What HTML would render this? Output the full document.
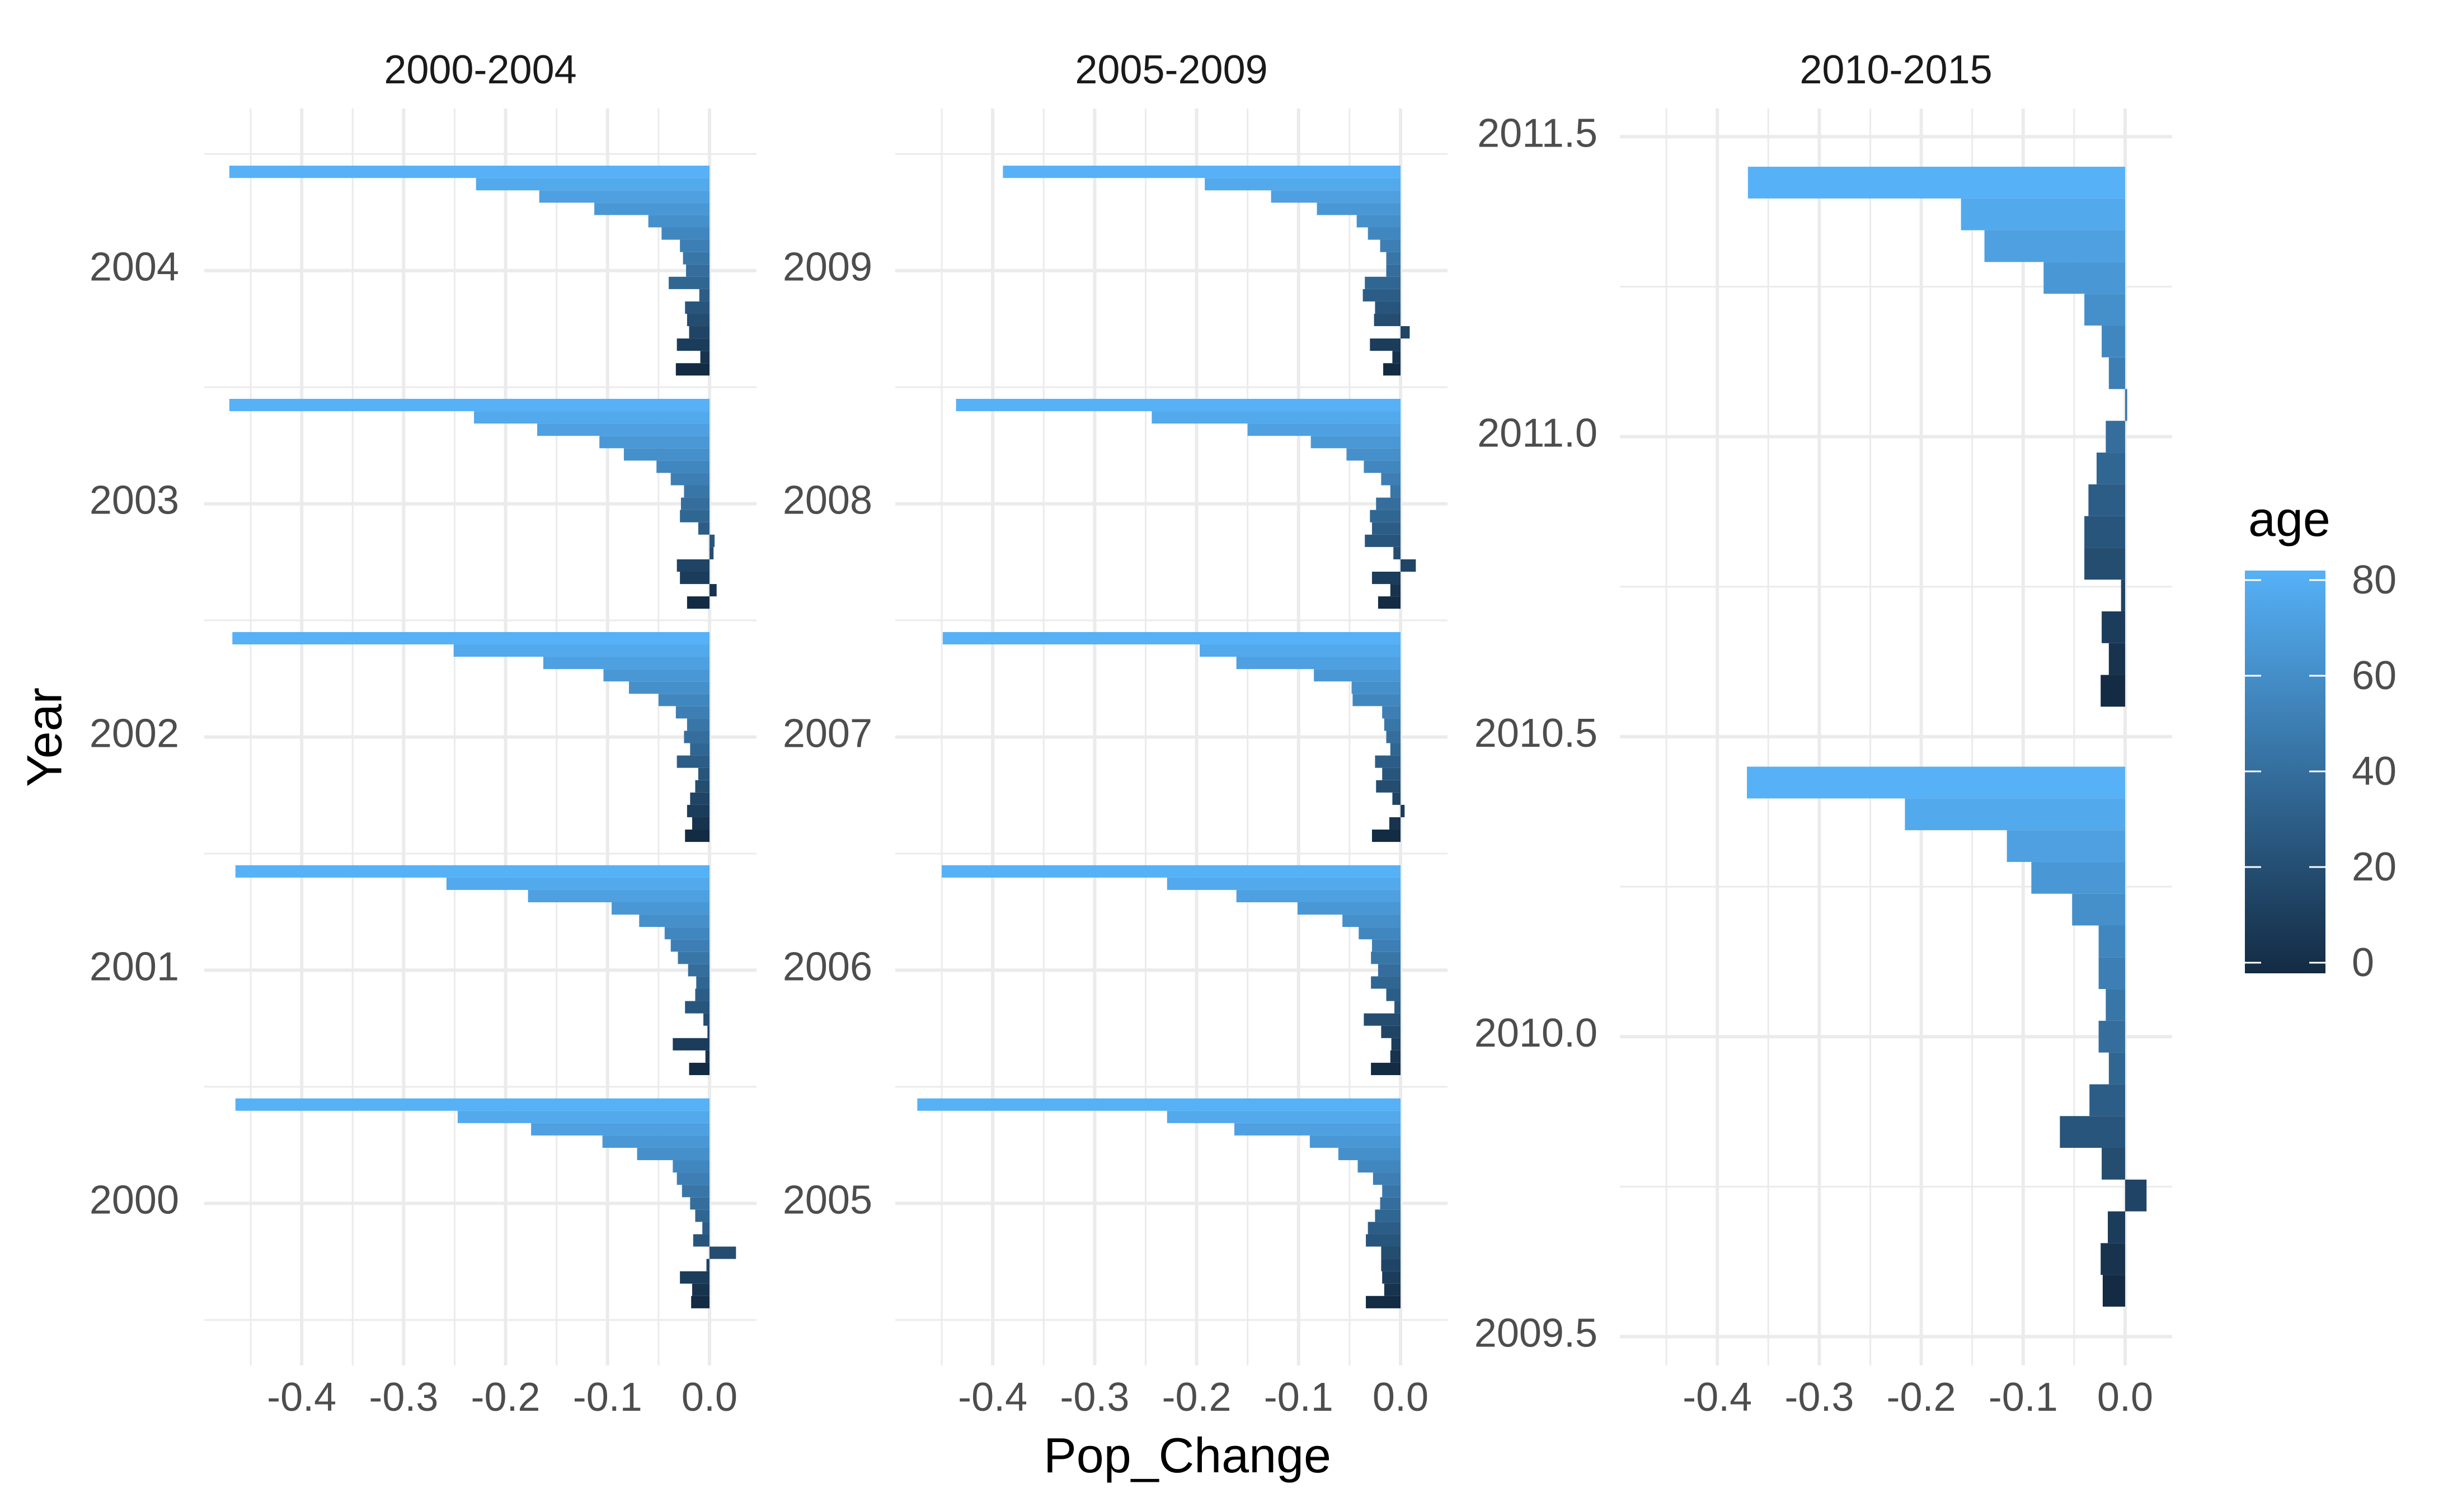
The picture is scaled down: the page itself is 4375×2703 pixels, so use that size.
<!DOCTYPE html>
<html><head><meta charset="utf-8"><title>Pop_Change by Year</title>
<style>
html,body{margin:0;padding:0;background:#fff;}
svg{display:block;font-family:"Liberation Sans",Arial,sans-serif;}
</style></head>
<body>
<svg id="chart" xmlns="http://www.w3.org/2000/svg" width="4375" height="2703" viewBox="0 0 4375 2703">
<rect x="0" y="0" width="4375" height="2703" fill="#fff"/>
<g id="grid"></g>
<g id="bars"></g>
<g id="labels"></g>
<text x="79" y="1318" transform="rotate(-90 79 1318)" text-anchor="middle" dominant-baseline="central" font-size="88" fill="#000">Year</text>
<text x="2122" y="2632" text-anchor="middle" font-size="88" fill="#000">Pop_Change</text>
<defs>
<linearGradient id="ageGrad" x1="0" y1="1" x2="0" y2="0">
<stop offset="0" stop-color="#132B43"/><stop offset="1" stop-color="#56B1F7"/>
</linearGradient>
</defs>
<g>
<text x="4018" y="958" font-size="88" fill="#000">age</text>
<rect x="4012" y="1020" width="144" height="720" fill="url(#ageGrad)"/>
<g id="legendTicks"></g>
</g>
</svg>
<script>
// ---- data ----
const ages = [0,5,10,15,20,25,30,35,40,45,50,55,60,65,70,75,80];
const facetTitles = ["2000-2004","2005-2009","2010-2015"];
const facet1Years = [2000,2001,2002,2003,2004];
const facet2Years = [2005,2006,2007,2008,2009];
const facet3Years = [2010,2011];
const pc2000 = [-0.018,-0.017,-0.029,-0.003,0.026,-0.016,-0.007,-0.014,-0.019,-0.027,-0.032,-0.036,-0.071,-0.105,-0.175,-0.247,-0.465];
const pc2001 = [-0.020,-0.004,-0.036,-0.002,-0.006,-0.024,-0.014,-0.013,-0.021,-0.031,-0.038,-0.044,-0.069,-0.096,-0.178,-0.258,-0.465];
const pc2002 = [-0.024,-0.017,-0.022,-0.019,-0.014,-0.011,-0.032,-0.019,-0.025,-0.022,-0.033,-0.050,-0.079,-0.104,-0.163,-0.251,-0.468];
const pc2003 = [-0.022,0.007,-0.029,-0.032,0.004,0.005,-0.011,-0.029,-0.028,-0.025,-0.038,-0.052,-0.084,-0.108,-0.169,-0.231,-0.471];
const pc2004 = [-0.033,-0.009,-0.032,-0.020,-0.022,-0.024,-0.010,-0.040,-0.023,-0.026,-0.029,-0.047,-0.060,-0.113,-0.167,-0.229,-0.471];
const pc2005 = [-0.034,-0.016,-0.018,-0.019,-0.019,-0.034,-0.032,-0.025,-0.020,-0.018,-0.027,-0.042,-0.061,-0.089,-0.163,-0.229,-0.474];
const pc2006 = [-0.029,-0.010,-0.009,-0.019,-0.036,-0.006,-0.014,-0.029,-0.022,-0.029,-0.028,-0.041,-0.057,-0.101,-0.161,-0.229,-0.450];
const pc2007 = [-0.028,-0.011,0.004,-0.008,-0.024,-0.018,-0.025,-0.010,-0.014,-0.016,-0.018,-0.047,-0.048,-0.085,-0.161,-0.197,-0.449];
const pc2008 = [-0.022,-0.010,-0.028,0.015,-0.007,-0.035,-0.028,-0.030,-0.024,-0.010,-0.019,-0.036,-0.053,-0.088,-0.150,-0.244,-0.436];
const pc2009 = [-0.017,-0.008,-0.030,0.009,-0.026,-0.025,-0.037,-0.035,-0.014,-0.014,-0.020,-0.032,-0.043,-0.082,-0.127,-0.192,-0.390];
const pc2010 = [-0.022,-0.024,-0.017,0.021,-0.023,-0.064,-0.035,-0.016,-0.026,-0.019,-0.026,-0.026,-0.052,-0.092,-0.116,-0.216,-0.371];
const pc2011 = [-0.024,-0.016,-0.023,-0.004,-0.040,-0.040,-0.036,-0.028,-0.019,0.002,-0.016,-0.023,-0.040,-0.080,-0.138,-0.161,-0.370];
const xTickValues = [-0.4,-0.3,-0.2,-0.1,0.0];
const xTickLabels = ["-0.4","-0.3","-0.2","-0.1","0.0"];
const facet3TickValues = [2009.5,2010.0,2010.5,2011.0,2011.5];
const facet3TickLabels = ["2009.5","2010.0","2010.5","2011.0","2011.5"];
const legendTickValues = [0,20,40,60,80];

const seriesByYear = {2000:pc2000,2001:pc2001,2002:pc2002,2003:pc2003,2004:pc2004,2005:pc2005,2006:pc2006,2007:pc2007,2008:pc2008,2009:pc2009,2010:pc2010,2011:pc2011};

// ---- layout ----
const NS = "http://www.w3.org/2000/svg";
const PW = 987, PTOP = 194, PBOT = 2441;
const XMIN = -0.4956, XMAX = XMIN + PW/1822;
const panels = [
  {left:365, years:facet1Years, ymin:1999.305, ymax:2004.695, labelRight:320},
  {left:1600, years:facet2Years, ymin:2004.305, ymax:2009.695, labelRight:1559},
  {left:2895, years:facet3Years, ymin:2009.452, ymax:2011.547, labelRight:2855}
];
function mk(tag, attrs, parent){ const e=document.createElementNS(NS,tag); for(const k in attrs) e.setAttribute(k,attrs[k]); parent.appendChild(e); return e; }
function xs(p,v){ return p.left + (v - XMIN)/(XMAX - XMIN)*PW; }
function ys(p,v){ return PBOT - (v - p.ymin)/(p.ymax - p.ymin)*(PBOT-PTOP); }
function ageColor(a){
  const c0=[0x13,0x2B,0x43], c1=[0x56,0xB1,0xF7], t=a/80;
  return "rgb("+c0.map((c,i)=>Math.round(c+(c1[i]-c)*t)).join(",")+")";
}
const gGrid=document.getElementById("grid"), gBars=document.getElementById("bars"), gLab=document.getElementById("labels");

panels.forEach((p,pi)=>{
  for(let v=-0.45; v<XMAX; v+=0.05){
    const vv=Math.round(v*100)/100; const x=xs(p,vv);
    if(x<p.left||x>p.left+PW) continue;
    const major = Math.abs(Math.round(vv*10)-vv*10)<1e-6;
    const l=mk("line",{x1:x,x2:x,y1:PTOP,y2:PBOT,stroke:"#EBEBEB","stroke-width":major?6:3},gGrid);
    
    
  }
  let majors, step;
  if(pi<2){ majors=p.years; step=0.5; } else { majors=facet3TickValues; step=0.25; }
  const start=Math.ceil(p.ymin/step)*step;
  for(let v=start; v<=p.ymax; v+=step){
    const isMajor = majors.some(m=>Math.abs(m-v)<1e-6);
    const y=ys(p,v);
    const l=mk("line",{x1:p.left,x2:p.left+PW,y1:y,y2:y,stroke:"#EBEBEB","stroke-width":isMajor?6:3},gGrid);
    
    
  }
  const bw = 0.9/ages.length;
  p.years.forEach(yr=>{
    const vals=seriesByYear[yr];
    ages.forEach((a,i)=>{
      const y0=yr-0.45+i*bw, y1=y0+bw;
      const v=vals[i];
      const xa=xs(p,Math.min(0,v)), xb=xs(p,Math.max(0,v));
      const top=ys(p,y1), bot=ys(p,y0);
      const r=mk("rect",{x:xa,y:top,width:Math.max(xb-xa,0.5),height:bot-top,fill:ageColor(a)},gBars);
      
      
    });
  });
  const st=mk("text",{x:p.left+PW/2,y:149,"text-anchor":"middle","font-size":72,fill:"#1A1A1A"},gLab);
  st.textContent=facetTitles[pi];
  
  
  xTickValues.forEach((v,i)=>{
    const t=mk("text",{x:xs(p,v),y:2522,"text-anchor":"middle","font-size":72,fill:"#4D4D4D"},gLab);
    t.textContent=xTickLabels[i];
    
    
  });
  const yv = pi<2 ? p.years : facet3TickValues;
  const yl = pi<2 ? p.years.map(String) : facet3TickLabels;
  yv.forEach((v,i)=>{
    const t=mk("text",{x:p.labelRight,y:ys(p,v)+18,"text-anchor":"end","font-size":72,fill:"#4D4D4D"},gLab);
    t.textContent=yl[i];
    
    
  });
});

const gLT=document.getElementById("legendTicks");
legendTickValues.forEach(v=>{
  const y=1721-(v/80)*(1721-1037);
  const a=mk("line",{x1:4012,x2:4041,y1:y,y2:y,stroke:"#fff","stroke-width":3},gLT);
  
  
  const b=mk("line",{x1:4127,x2:4156,y1:y,y2:y,stroke:"#fff","stroke-width":3},gLT);
  
  
  const t=mk("text",{x:4203,y:y+24,"font-size":72,fill:"#4D4D4D"},gLT);
  t.textContent=String(v);
  
  
});
</script>
</body></html>
